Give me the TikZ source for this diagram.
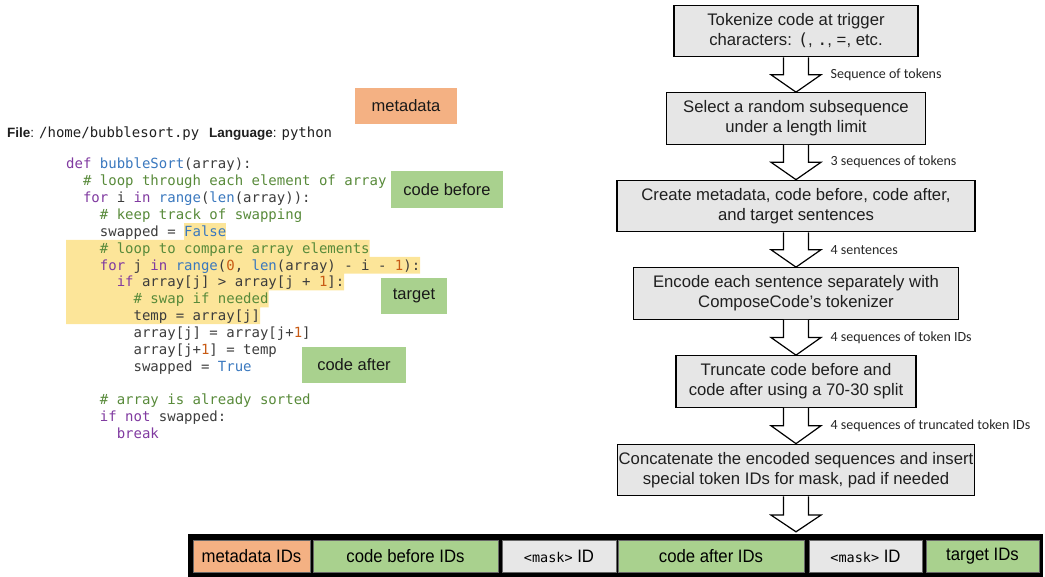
\documentclass[tikz,border=0pt]{standalone}
\usepackage{fontspec}
\setmainfont{Liberation Sans}
\setmonofont{DejaVu Sans Mono}
\newfontfamily\lblfont{Carlito}
\newfontfamily\barfont[FakeStretch=0.93]{Liberation Sans}
\usetikzlibrary{calc}
\definecolor{kwc}{RGB}{128,58,160}
\definecolor{fnc}{RGB}{58,120,190}
\definecolor{cmc}{RGB}{88,138,58}
\definecolor{nmc}{RGB}{200,90,20}
\definecolor{codetxt}{RGB}{60,60,60}
\definecolor{hlyel}{RGB}{252,229,153}
\definecolor{orangelab}{RGB}{244,177,131}
\definecolor{greenlab}{RGB}{169,209,142}
\definecolor{graybox}{RGB}{230,230,230}
\definecolor{maskgray}{RGB}{231,231,231}
\newcommand\ckw[1]{\textcolor{kwc}{#1}}
\newcommand\cfn[1]{\textcolor{fnc}{#1}}
\newcommand\ccm[1]{\textcolor{cmc}{#1}}
\newcommand\cnum[1]{\textcolor{nmc}{#1}}
\tikzset{
  stepbox/.style={draw=black, line width=1.2pt, fill=graybox, text=black!88, align=center,
    inner sep=0pt, minimum height=51.5pt, font=\fontsize{16.7}{20}\selectfont},
  blk/.style={draw=black, line width=1.2pt, fill=white, line join=miter},
  lbl/.style={font=\lblfont\fontsize{14}{16}\selectfont, text=black!85, inner sep=0pt},
  codeln/.style={anchor=base west, inner sep=0pt, text=codetxt, font=\ttfamily\fontsize{14}{16}\selectfont},
  tag/.style={inner sep=0pt, text=black!90, font=\fontsize{16.5}{20}\selectfont},
  seg/.style={draw=black!60, line width=0.6pt, inner sep=0pt, minimum height=32pt, text=black,
    font=\barfont\fontsize{18}{20}\selectfont}
}
\newcommand\blockarr[4]{%
  \draw[blk] let \p1=(#1.south), \p2=(#2.north), \n1={(\y1+\y2)/2} in
    (\x1-12.5pt,\y1) -- (\x1-12.5pt,\n1) -- (\x1-25pt,\n1) -- (\x1,\y2) -- (\x1+25pt,\n1)
    -- (\x1+12.5pt,\n1) -- (\x1+12.5pt,\y1)
    (\x1+34pt,\n1) node[lbl, anchor=west] (#3) {#4};
}
\begin{document}
\begin{tikzpicture}[x=1pt,y=-1pt]
\useasboundingbox (0,0) rectangle (1045,577);

% ---------- left: code ----------
\fill[hlyel] (184,223) rectangle (226,239.95);
\fill[hlyel] (66,239.95) -- (369.5,239.95) -- (369.5,256.8) -- (420,256.8) -- (420,273.65)
  -- (344,273.65) -- (344,290.5) -- (268.5,290.5) -- (268.5,307.35) -- (260,307.35)
  -- (260,324.2) -- (66,324.2) -- cycle;

\node[anchor=base west, inner sep=0pt, text=black!88, font=\fontsize{13.5}{16}\selectfont] (fileln) at (7,138)
  {\textbf{File}: {\ttfamily\fontsize{14}{16}\selectfont /home/bubblesort.py}\hspace{6pt} \textbf{Language}: {\ttfamily\fontsize{14}{16}\selectfont python}};

\node[codeln] (c0) at (66+0*8.43,169+0*16.85) {\ckw{def} \cfn{bubbleSort}(array):};
\node[codeln] (c1) at (66+2*8.43,169+1*16.85) {\ccm{\# loop through each element of array}};
\node[codeln] (c2) at (66+2*8.43,169+2*16.85) {\ckw{for} i \ckw{in} \cfn{range}(\cfn{len}(array)):};
\node[codeln] (c3) at (66+4*8.43,169+3*16.85) {\ccm{\# keep track of swapping}};
\node[codeln] (c4) at (66+4*8.43,169+4*16.85) {swapped = \cfn{False}};
\node[codeln] (c5) at (66+4*8.43,169+5*16.85) {\ccm{\# loop to compare array elements}};
\node[codeln] (c6) at (66+4*8.43,169+6*16.85) {\ckw{for} j \ckw{in} \cfn{range}(\cnum{0}, \cfn{len}(array) - i - \cnum{1}):};
\node[codeln] (c7) at (66+6*8.43,169+7*16.85) {\ckw{if} array[j] > array[j + \cnum{1}]:};
\node[codeln] (c8) at (66+8*8.43,169+8*16.85) {\ccm{\# swap if needed}};
\node[codeln] (c9) at (66+8*8.43,169+9*16.85) {temp = array[j]};
\node[codeln] (c10) at (66+8*8.43,169+10*16.85) {array[j] = array[j+\cnum{1}]};
\node[codeln] (c11) at (66+8*8.43,169+11*16.85) {array[j+\cnum{1}] = temp};
\node[codeln] (c12) at (66+8*8.43,169+12*16.85) {swapped = \cfn{True}};
\node[codeln] (c14) at (66+4*8.43,169+14*16.85) {\ccm{\# array is already sorted}};
\node[codeln] (c15) at (66+4*8.43,169+15*16.85) {\ckw{if} \ckw{not} swapped:};
\node[codeln] (c16) at (66+6*8.43,169+16*16.85) {\ckw{break}};

% tags
\node[tag, fill=orangelab, minimum width=102pt, minimum height=36pt] (tmeta) at (406,106) {metadata};
\node[tag, fill=greenlab, minimum width=112pt, minimum height=37pt] (tbefore) at (447,189.5) {code before};
\node[tag, fill=greenlab, minimum width=66pt, minimum height=36pt] (ttarget) at (414,296) {target};
\node[tag, fill=greenlab, minimum width=104pt, minimum height=36pt] (tafter) at (354,365) {code after};

% ---------- right: pipeline ----------
\node[stepbox, minimum width=244pt] (b1) at (796,31) {Tokenize code at trigger\\characters: {\ttfamily (}, {\ttfamily .}, =, etc.};
\node[stepbox, minimum width=259pt] (b2) at (796,118.5) {Select a random subsequence\\under a length limit};
\node[stepbox, minimum width=358pt] (b3) at (796,206) {Create metadata, code before, code after,\\and target sentences};
\node[stepbox, minimum width=325pt] (b4) at (796,293.5) {Encode each sentence separately with\\ComposeCode’s tokenizer};
\node[stepbox, minimum width=240pt] (b5) at (796,381.5) {Truncate code before and\\code after using a 70-30 split};
\node[stepbox, minimum width=357pt] (b6) at (796,470) {Concatenate the encoded sequences and insert\\special token IDs for mask, pad if needed};

% bottom bar
\node[fill=black, minimum width=855pt, minimum height=43pt, inner sep=0pt] (bar) at (615.5,555.5) {};
\node[seg, fill=orangelab, minimum width=117pt] (s1) at (251.5,556) {metadata IDs};
\node[seg, fill=greenlab, minimum width=185pt] (s2) at (405.5,556) {code before IDs};
\node[seg, fill=maskgray, minimum width=114pt] (s3) at (559,556) {{\ttfamily\fontsize{13.5}{16}\selectfont <mask>} ID};
\node[seg, fill=greenlab, minimum width=186pt] (s4) at (711,556) {code after IDs};
\node[seg, fill=maskgray, minimum width=113pt] (s5) at (865.5,556) {{\ttfamily\fontsize{13.5}{16}\selectfont <mask>} ID};
\node[seg, fill=greenlab, minimum width=113pt] (s6) at (982.5,556) {target IDs};

% arrows
\blockarr{b1}{b2}{l1}{Sequence of tokens}
\blockarr{b2}{b3}{l2}{3 sequences of tokens}
\blockarr{b3}{b4}{l3}{4 sentences}
\blockarr{b4}{b5}{l4}{4 sequences of token IDs}
\blockarr{b5}{b6}{l5}{4 sequences of truncated token IDs}
\draw[blk] let \p1=(b6.south), \p2=(bar.north), \n1={(\y1+\y2)/2} in
    (\x1-12.5pt,\y1) -- (\x1-12.5pt,\n1) -- (\x1-25pt,\n1) -- (\x1,\y2+2pt) -- (\x1+25pt,\n1)
    -- (\x1+12.5pt,\n1) -- (\x1+12.5pt,\y1);
\end{tikzpicture}
\end{document}
